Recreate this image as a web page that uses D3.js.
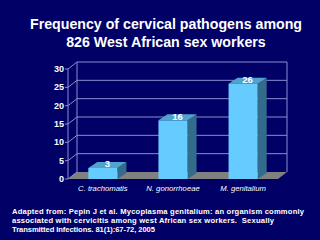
<!DOCTYPE html>
<html><head><meta charset="utf-8">
<script src="https://cdn.jsdelivr.net/npm/d3@7"></script>
<style>html,body{margin:0;padding:0;background:#000066;overflow:hidden}svg{display:block}text{white-space:pre}</style>
</head><body>
<script>
const categories = ["C. trachomatis", "N. gonorrhoeae", "M. genitalium"];
const values = [3, 16, 26];
const yTicks = [0, 5, 10, 15, 20, 25, 30];
const titleLines = ["Frequency of cervical pathogens among", "826 West African sex workers"];
const noteLines = [
  "Adapted from: Pepin J et al. Mycoplasma genitalium: an organism commonly",
  "associated with cervicitis among west African sex workers.  Sexually",
  "Transmitted Infections. 81(1):67-72, 2005"
];

const W = 320, H = 240;
const svg = d3.select("body").append("svg").attr("width", W).attr("height", H);
svg.append("rect").attr("width", W).attr("height", H).attr("fill", "#000066");

const x = d3.scaleBand().domain(categories).range([68, 278]).paddingInner(0.585).paddingOuter(0.29);
const y = d3.scaleLinear().domain([0, 30]).range([179, 69]);
const DX = 9, DY = -7;   // wall depth
const BDX = 9, BDY = -6; // bar depth
const grid = "#8c8cd0";
const font = "Liberation Sans, Arial, sans-serif";

const x0 = 68, x1 = 278;
svg.append("path")
  .attr("d", `M${x0},${y(0)}L${x1},${y(0)}L${x1+DX},${y(0)+DY}L${x0+DX},${y(0)+DY}Z`)
  .attr("fill", "#808080");

yTicks.forEach(t => {
  if (t > 0) svg.append("line").attr("x1", x0+DX).attr("x2", x1+DX)
    .attr("y1", y(t)+DY).attr("y2", y(t)+DY).attr("stroke", grid).attr("stroke-width", 1);
  svg.append("line").attr("x1", x0).attr("y1", y(t)).attr("x2", x0+DX).attr("y2", y(t)+DY)
    .attr("stroke", grid).attr("stroke-width", 1);
  svg.append("line").attr("x1", x0-3).attr("x2", x0).attr("y1", y(t)).attr("y2", y(t))
    .attr("stroke", grid).attr("stroke-width", 1);
});
svg.append("line").attr("x1", x0+DX).attr("x2", x0+DX).attr("y1", y(30)+DY).attr("y2", y(0)+DY).attr("stroke", grid);
svg.append("line").attr("x1", x1+DX).attr("x2", x1+DX).attr("y1", y(30)+DY).attr("y2", y(0)+DY).attr("stroke", grid);
svg.append("line").attr("x1", x0).attr("x2", x0).attr("y1", y(30)).attr("y2", y(0)).attr("stroke", grid);

svg.selectAll(".yl").data(yTicks).enter().append("text")
  .attr("x", x0-4).attr("y", d => y(d)).attr("dy", "0.35em")
  .attr("text-anchor", "end").attr("fill", "#fff")
  .attr("font-family", font).attr("font-weight", "bold").attr("font-size", 9)
  .text(d => d);

const bars = svg.selectAll(".bar").data(values.map((v, i) => ({v, c: categories[i]}))).enter().append("g");
bars.append("path").attr("d", d => {
  const l = x(d.c), r = l + x.bandwidth(), t = y(d.v), b = y(0);
  return `M${r},${t}L${r+BDX},${t+BDY}L${r+BDX},${b+BDY}L${r},${b}Z`;
}).attr("fill", "#336b8c");
bars.append("path").attr("d", d => {
  const l = x(d.c), r = l + x.bandwidth(), t = y(d.v);
  return `M${l},${t}L${r},${t}L${r+BDX},${t+BDY}L${l+BDX},${t+BDY}Z`;
}).attr("fill", "#4fa3cc");
bars.append("rect").attr("x", d => x(d.c)).attr("y", d => y(d.v))
  .attr("width", x.bandwidth()).attr("height", d => y(0) - y(d.v)).attr("fill", "#66ccff");
bars.append("text")
  .attr("x", d => x(d.c) + x.bandwidth()/2 + BDX/2).attr("y", d => y(d.v) + BDY/2 - 1).attr("dy", "0.35em")
  .attr("text-anchor", "middle").attr("fill", "#fff")
  .attr("font-family", font).attr("font-weight", "bold").attr("font-size", 9.5)
  .text(d => d.v);

svg.selectAll(".cl").data(categories).enter().append("text")
  .attr("x", d => x(d) + x.bandwidth()/2).attr("y", 188).attr("dy", "0.35em")
  .attr("text-anchor", "middle").attr("fill", "#fff").attr("font-style", "italic")
  .attr("font-family", font).attr("font-size", 7.7)
  .text(d => d);

svg.selectAll(".tl").data(titleLines).enter().append("text")
  .attr("x", 166).attr("y", (d, i) => 24 + i*18).attr("dy", "0.35em")
  .attr("text-anchor", "middle").attr("fill", "#fff").attr("font-weight", "bold")
  .attr("font-family", font).attr("font-size", 14.2)
  .text(d => d);

const noteWidths = [292, 262, 143];
svg.selectAll(".nl").data(noteLines).enter().append("text")
  .attr("x", 12).attr("y", (d, i) => 211 + i*9.2).attr("dy", "0.35em")
  .attr("fill", "#fff").attr("font-weight", "bold")
  .attr("font-family", font).attr("font-size", 7.6)
  .attr("textLength", (d, i) => noteWidths[i]).attr("lengthAdjust", "spacing")
  .text(d => d);
</script>
</body></html>
